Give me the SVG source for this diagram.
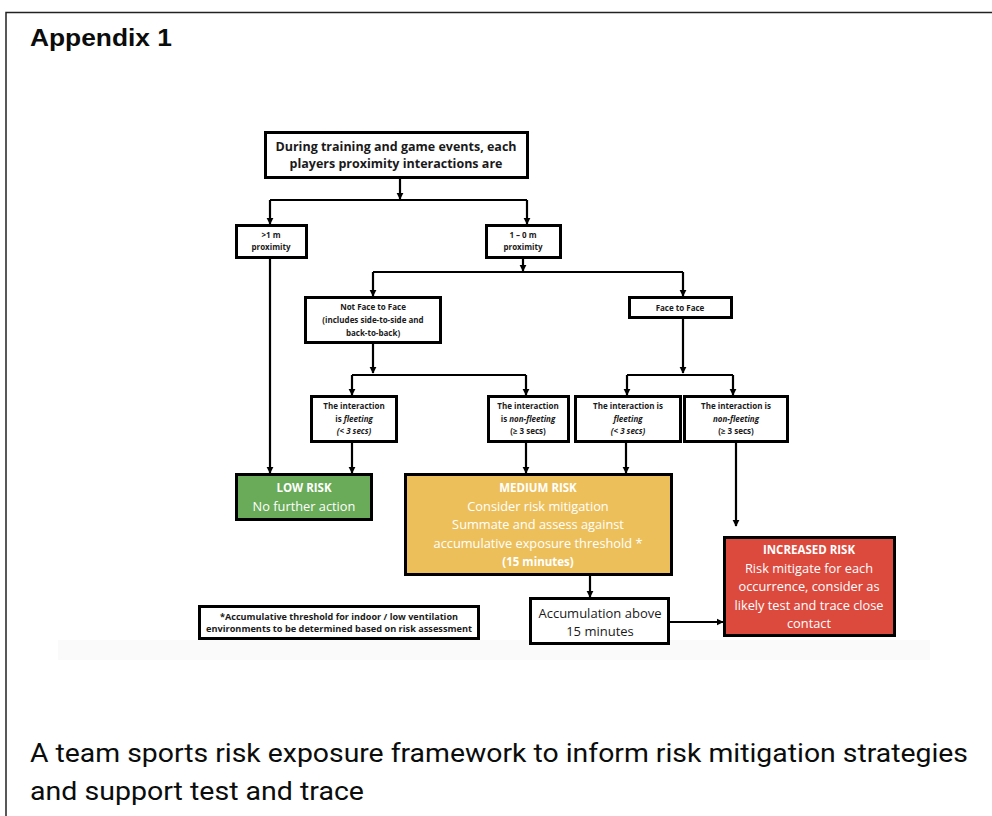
<svg xmlns="http://www.w3.org/2000/svg" width="992" height="816" viewBox="0 0 992 816">
<defs>
<marker id="ah" viewBox="0 0 10 10" refX="9" refY="5" markerWidth="3.2" markerHeight="3.2" orient="auto" markerUnits="strokeWidth">
<path d="M0,0 L10,5 L0,10 z" fill="#000"/>
</marker>
<style>
.box{fill:#fff;stroke:#000;stroke-width:3}
.t{font-family:"Open Sans","Liberation Sans",sans-serif;text-anchor:middle;fill:#1a1a1a}
.s{font-size:8px;font-weight:bold}
.b12{font-size:12.5px;font-weight:bold}
.w{fill:#fff;font-size:12.8px}
.wb{fill:#fff;font-size:11.5px;font-weight:bold}
.c{fill:none;stroke:#000;stroke-width:2.2}
.ca{fill:none;stroke:#000;stroke-width:2.2;marker-end:url(#ah)}
.i{font-style:italic}
</style>
</defs>
<rect width="992" height="816" fill="#fff"/>
<path d="M6,816 V12.5 H992" fill="none" stroke="#222" stroke-width="1.5"/>
<text x="30" y="46" font-family="Liberation Sans, Arial, sans-serif" font-weight="bold" font-size="23" textLength="142" lengthAdjust="spacingAndGlyphs" fill="#0b0c0c">Appendix 1</text>
<rect x="58" y="640" width="872" height="20" fill="#fafafa"/>

<g id="connectors">
<path class="ca" d="M270,200 H527 M270,200 V224"/>
<path class="ca" d="M527,200 V224"/>
<path class="ca" d="M400,177 V199"/>
<path class="c" d="M373,272 H683"/>
<path class="ca" d="M373,272 V296"/>
<path class="ca" d="M683,272 V296"/>
<path class="ca" d="M523,257 V271"/>
<path class="c" d="M352,375 H526"/>
<path class="ca" d="M352,375 V395"/>
<path class="ca" d="M526,375 V395"/>
<path class="ca" d="M373,342 V373"/>
<path class="c" d="M627,375 H733"/>
<path class="ca" d="M627,375 V395"/>
<path class="ca" d="M733,375 V395"/>
<path class="ca" d="M683,317 V373"/>
<path class="ca" d="M270,257 V473"/>
<path class="ca" d="M352,441 V473"/>
<path class="ca" d="M526,441 V473"/>
<path class="ca" d="M626,441 V473"/>
<path class="ca" d="M736,441 V526"/>
<path class="ca" d="M590,574 V597"/>
<path class="ca" d="M668,622 H723"/>
</g>

<g id="start">
<rect class="box" x="265.5" y="132.5" width="262" height="45"/>
<text class="t b12" x="396" y="151">During training and game events, each</text>
<text class="t b12" x="396" y="168">players proximity interactions are</text>
</g>
<g id="far">
<rect class="box" x="236.5" y="225.5" width="70" height="32"/>
<text class="t s" x="271" y="238">&gt;1 m</text>
<text class="t s" x="271" y="250">proximity</text>
</g>
<g id="near">
<rect class="box" x="486.5" y="225.5" width="74" height="32"/>
<text class="t s" x="523" y="238">1 – 0 m</text>
<text class="t s" x="523" y="250">proximity</text>
</g>
<g id="notface">
<rect class="box" x="305.5" y="297.5" width="135" height="45"/>
<text class="t s" x="373" y="310">Not Face to Face</text>
<text class="t s" x="373" y="323">(includes side-to-side and</text>
<text class="t s" x="373" y="336">back-to-back)</text>
</g>
<g id="face">
<rect class="box" x="629.5" y="297.5" width="102" height="20"/>
<text class="t s" x="680" y="310.5">Face to Face</text>
</g>
<g id="fleet1">
<rect class="box" x="311.5" y="396.5" width="85" height="45"/>
<text class="t s" x="354" y="409">The interaction</text>
<text class="t s" x="354" y="421.5">is <tspan class="i">fleeting</tspan></text>
<text class="t s i" x="354" y="434">(&lt; 3 secs)</text>
</g>
<g id="nonfleet1">
<rect class="box" x="488.5" y="396.5" width="80" height="45"/>
<text class="t s" x="528" y="409">The interaction</text>
<text class="t s" x="528" y="421.5">is <tspan class="i">non-fleeting</tspan></text>
<text class="t s" x="528" y="434">(≥ 3 secs)</text>
</g>
<g id="fleet2">
<rect class="box" x="575.5" y="396.5" width="105" height="45"/>
<text class="t s" x="628" y="409">The interaction is</text>
<text class="t s i" x="628" y="421.5">fleeting</text>
<text class="t s i" x="628" y="434">(&lt; 3 secs)</text>
</g>
<g id="nonfleet2">
<rect class="box" x="684.5" y="396.5" width="103" height="45"/>
<text class="t s" x="736" y="409">The interaction is</text>
<text class="t s i" x="736" y="421.5">non-fleeting</text>
<text class="t s" x="736" y="434">(≥ 3 secs)</text>
</g>
<g id="low">
<rect x="236.5" y="474.5" width="135" height="45" fill="#69ab58" stroke="#000" stroke-width="3"/>
<text class="t wb" x="304" y="492">LOW RISK</text>
<text class="t w" x="304" y="511">No further action</text>
</g>
<g id="medium">
<rect x="405.5" y="474.5" width="266" height="100" fill="#edbf5b" stroke="#000" stroke-width="3"/>
<text class="t wb" x="538" y="492">MEDIUM RISK</text>
<text class="t w" x="538" y="511">Consider risk mitigation</text>
<text class="t w" x="538" y="529">Summate and assess against</text>
<text class="t w" x="538" y="548">accumulative exposure threshold *</text>
<text class="t wb" x="538" y="566">(15 minutes)</text>
</g>
<g id="increased">
<rect x="724.5" y="537.5" width="170" height="98" fill="#dc4a3e" stroke="#000" stroke-width="3"/>
<text class="t wb" x="809" y="554">INCREASED RISK</text>
<text class="t w" x="809" y="573">Risk mitigate for each</text>
<text class="t w" x="809" y="591">occurrence, consider as</text>
<text class="t w" x="809" y="610">likely test and trace close</text>
<text class="t w" x="809" y="628">contact</text>
</g>
<g id="accum">
<rect class="box" x="530.5" y="598.5" width="138" height="45"/>
<text class="t" x="600" y="618" font-size="13">Accumulation above</text>
<text class="t" x="600" y="636" font-size="13">15 minutes</text>
</g>
<g id="footnote">
<rect class="box" x="199.5" y="606.5" width="279" height="32"/>
<text class="t s" x="339" y="620" textLength="238" lengthAdjust="spacingAndGlyphs">*Accumulative threshold for indoor / low ventilation</text>
<text class="t s" x="339" y="632" textLength="266" lengthAdjust="spacingAndGlyphs">environments to be determined based on risk assessment</text>
</g>

<text x="30" y="762" font-family="Roboto, 'Liberation Sans', sans-serif" font-size="25" textLength="938" lengthAdjust="spacingAndGlyphs" fill="#0b0c0c">A team sports risk exposure framework to inform risk mitigation strategies</text>
<text x="30" y="800" font-family="Roboto, 'Liberation Sans', sans-serif" font-size="25" textLength="334" lengthAdjust="spacingAndGlyphs" fill="#0b0c0c">and support test and trace</text>
</svg>
